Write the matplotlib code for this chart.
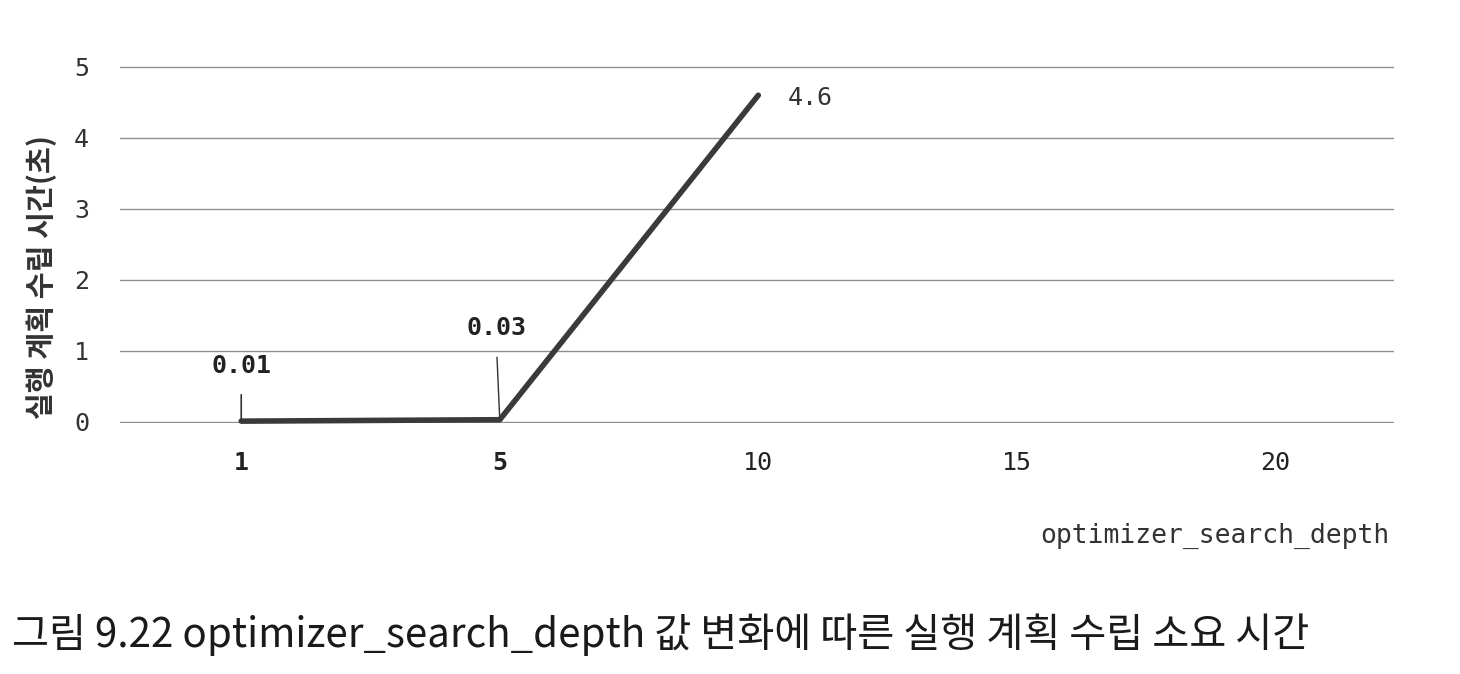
import matplotlib.pyplot as plt

plt.rcParams['font.family'] = ['DejaVu Sans Mono', 'Noto Sans CJK KR']

depth_labels = ["1", "5", "10", "15", "20"]
plan_time = [0.01, 0.03, 4.6]
value_labels = ["0.01", "0.03", "4.6"]
y_ticks = [0, 1, 2, 3, 4, 5]

fig = plt.figure(figsize=(14.6, 6.74), dpi=100)
ax = fig.add_axes([0.082, 0.372, 0.873, 0.531])

x = list(range(len(plan_time)))
ax.plot(x, plan_time, color="#3a3a3a", linewidth=4.0, solid_capstyle="round", clip_on=False, zorder=3)

# 값 라벨 (1, 5 는 세로 지시선 위에)
ax.annotate(value_labels[0], xy=(0, plan_time[0]), xytext=(0, 40), textcoords="offset points",
            ha="center", va="center", fontsize=18, fontweight="bold", color="#222222",
            annotation_clip=False)
ax.annotate("", xy=(0, plan_time[0]), xytext=(0, 19), textcoords="offset points",
            arrowprops=dict(arrowstyle="-", color="#333333", lw=1.2, shrinkA=0, shrinkB=0))
ax.annotate(value_labels[1], xy=(1, plan_time[1]), xytext=(-2, 66), textcoords="offset points",
            ha="center", va="center", fontsize=18, fontweight="bold", color="#222222")
ax.annotate("", xy=(1, plan_time[1]), xytext=(-2, 45), textcoords="offset points",
            arrowprops=dict(arrowstyle="-", color="#333333", lw=1.0, shrinkA=0, shrinkB=0))
ax.annotate(value_labels[2], xy=(2, plan_time[2]), xytext=(21, -2), textcoords="offset points",
            ha="left", va="center", fontsize=18, color="#333333")

ax.set_xlim(-0.47, 4.46)
ax.set_ylim(-0.02, 5.02)
ax.set_xticks(range(len(depth_labels)))
ax.set_xticklabels(depth_labels)
for i, t in enumerate(ax.get_xticklabels()):
    t.set_fontweight("bold" if i < 2 else "normal")
ax.set_yticks(y_ticks)
ax.tick_params(axis="x", length=0, pad=20, labelsize=18, labelcolor="#222222")
ax.tick_params(axis="y", length=0, pad=22, labelsize=18, labelcolor="#333333")

ax.grid(axis="y", color="#8f8f8f", linewidth=1.0)
ax.set_axisbelow(True)
for s in ax.spines.values():
    s.set_visible(False)

ax.set_ylabel("실행 계획 수립 시간(초)", fontsize=21, fontweight="bold", color="#333333",
              family=["Noto Sans CJK KR"])
ax.yaxis.set_label_coords(-0.049, 0.408)

fig.text(0.952, 0.205, "optimizer_search_depth", ha="right", va="center", fontsize=19, color="#333333")
fig.text(0.008, 0.058, "그림 9.22 optimizer_search_depth 값 변화에 따른 실행 계획 수립 소요 시간",
         ha="left", va="center", fontsize=29, color="#1a1a1a",
         family=["Noto Sans CJK KR", "DejaVu Sans"])

plt.savefig("out.png", dpi=100)
